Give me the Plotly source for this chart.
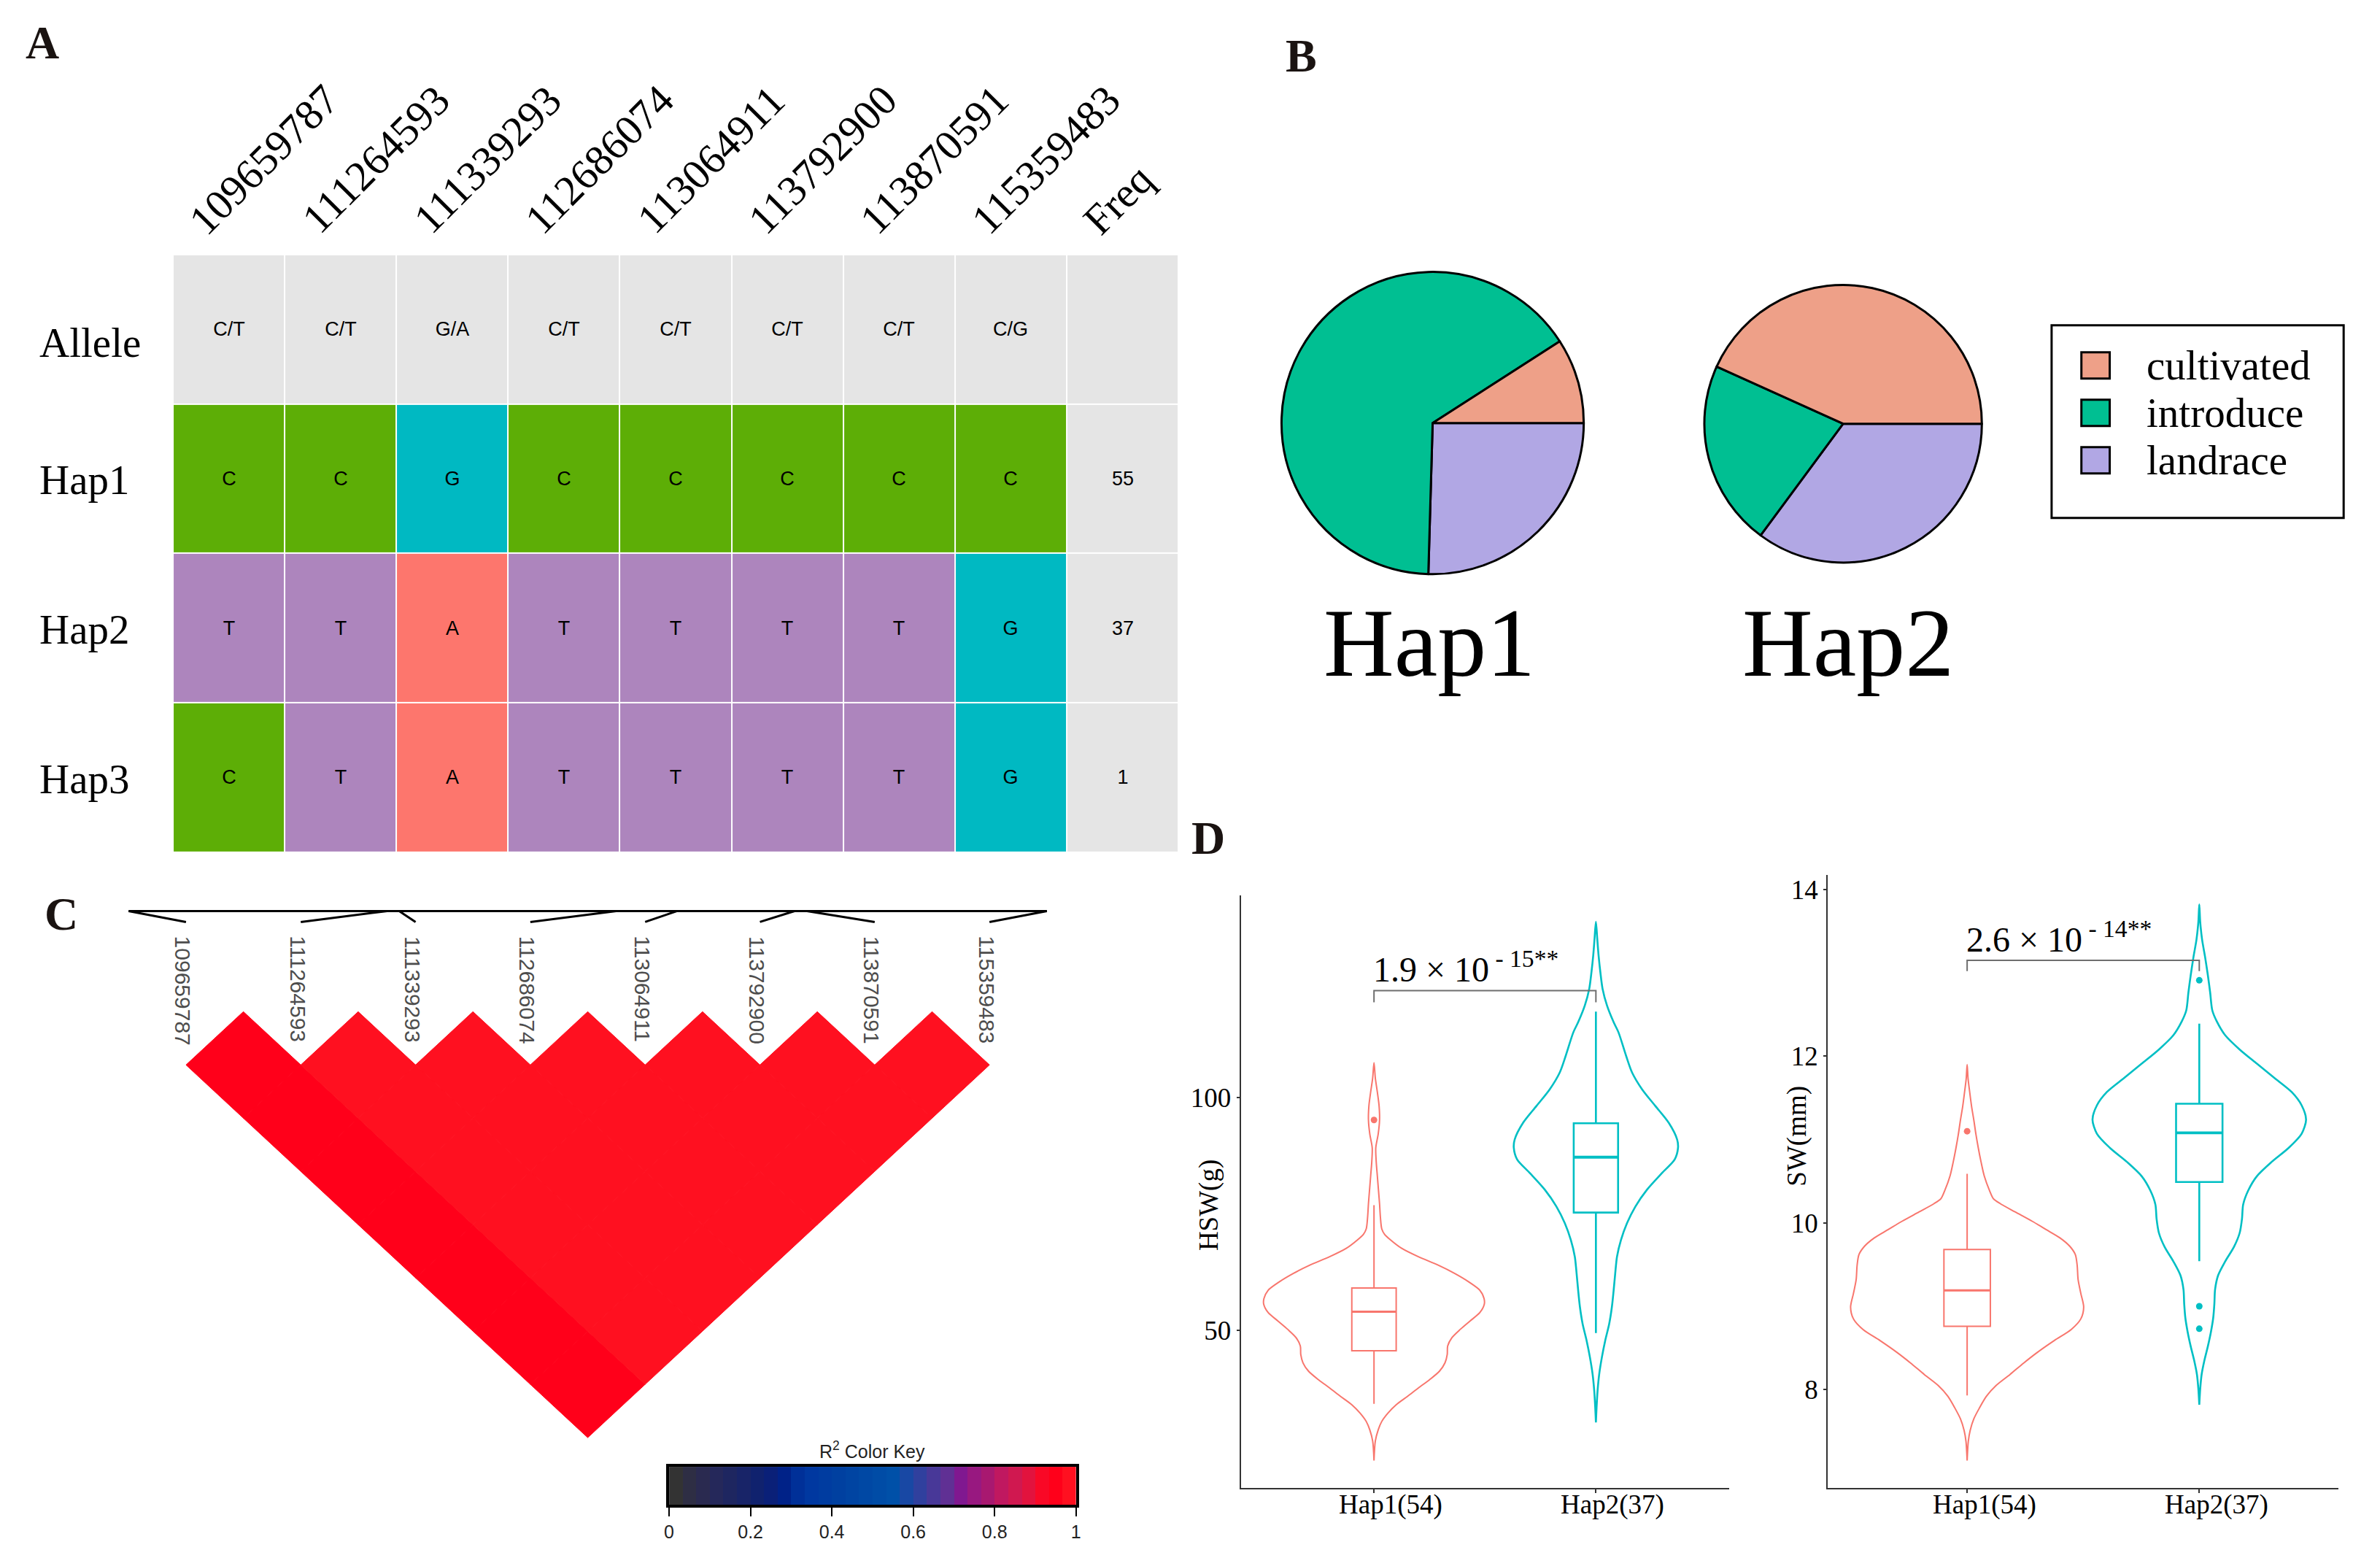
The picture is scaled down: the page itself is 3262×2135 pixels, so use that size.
import plotly.graph_objects as go

W, H = 3262, 2135
SERIF = "Liberation Serif"
SANS = "Liberation Sans"


def px(x):
    return x / W


def py(y):
    return 1 - y / H


# ---------------- data ----------------
site_ids = ["109659787", "111264593", "111339293", "112686074",
            "113064911", "113792900", "113870591", "115359483"]
site_pos = [109659787, 111264593, 111339293, 112686074,
            113064911, 113792900, 113870591, 115359483]
row_names = ["Allele", "Hap1", "Hap2", "Hap3"]
allele_row = ["C/T", "C/T", "G/A", "C/T", "C/T", "C/T", "C/T", "C/G"]
hap1_bases = ["C", "C", "G", "C", "C", "C", "C", "C"]
hap2_bases = ["T", "T", "A", "T", "T", "T", "T", "G"]
hap3_bases = ["C", "T", "A", "T", "T", "T", "T", "G"]
hap_freq = [55, 37, 1]

pie_groups = ["cultivated", "introduce", "landrace"]
pie_hap1 = [5, 36, 14]
pie_hap2 = [16, 8, 13]

# LD r^2, row i holds r^2 of site i with sites i+1..7
ld_r2 = [
    [0.95, 0.95, 0.95, 0.95, 0.95, 0.95, 0.95],
    [1, 1, 1, 1, 1, 1],
    [1, 1, 1, 1, 1],
    [1, 1, 1, 1],
    [1, 1, 1],
    [1, 1],
    [1],
]
key_ticks = [0, 0.2, 0.4, 0.6, 0.8, 1]
key_ticktext = ["0", "0.2", "0.4", "0.6", "0.8", "1"]

# violin outlines: value levels and half widths
hsw_h1_y = [107.5, 104.2, 101.2, 98.2, 95.2, 92.2, 89.2, 86.2, 83.2, 80.2, 77.2, 74.2, 71.8,
            70.6, 69.4, 67.6, 65.8, 64.0, 62.2, 60.4, 58.6, 56.8, 55.6, 53.8, 52.0, 50.2,
            48.4, 46.6, 44.8, 43.0, 41.2, 39.4, 37.6, 35.8, 34.0, 32.2, 30.4, 28.6, 26.2, 22.0]
hsw_h1_w = [0, 0.006, 0.015, 0.023, 0.025, 0.019, 0.008, 0.010, 0.015, 0.020, 0.025, 0.029, 0.035,
            0.048, 0.075, 0.125, 0.200, 0.289, 0.364, 0.427, 0.477, 0.496, 0.497, 0.477, 0.433, 0.389,
            0.351, 0.332, 0.330, 0.320, 0.295, 0.251, 0.200, 0.151, 0.100, 0.063, 0.035, 0.019, 0.006, 0]
hsw_h2_y = [137.8, 134.2, 130.6, 127.0, 123.4, 119.8, 116.2, 114.0, 109.0, 105.4, 101.8, 98.2,
            94.6, 91.0, 89.2, 86.7, 83.8, 80.2, 76.6, 73.0, 69.4, 65.8, 62.2, 58.6, 55.0, 51.4,
            47.8, 44.2, 40.6, 37.0, 33.4, 30.2]
hsw_h2_w = [0, 0.006, 0.012, 0.020, 0.030, 0.050, 0.080, 0.102, 0.136, 0.163, 0.208, 0.268,
            0.328, 0.366, 0.370, 0.355, 0.298, 0.230, 0.178, 0.140, 0.113, 0.095, 0.087, 0.080,
            0.072, 0.060, 0.042, 0.027, 0.015, 0.0075, 0.003, 0]
sw_h1_y = [11.90, 11.73, 11.57, 11.40, 11.23, 11.06, 10.90, 10.73, 10.56, 10.39, 10.29, 10.23,
           10.13, 10.02, 9.92, 9.82, 9.72, 9.62, 9.49, 9.32, 9.15, 8.99, 8.85, 8.72, 8.59, 8.45,
           8.32, 8.18, 8.05, 7.92, 7.78, 7.65, 7.51, 7.38, 7.15]
sw_h1_w = [0, 0.004, 0.011, 0.019, 0.029, 0.038, 0.048, 0.060, 0.074, 0.096, 0.113, 0.143,
           0.208, 0.280, 0.340, 0.400, 0.442, 0.466, 0.474, 0.478, 0.490, 0.502, 0.490, 0.448,
           0.376, 0.304, 0.244, 0.184, 0.125, 0.083, 0.053, 0.029, 0.013, 0.005, 0]
sw_h2_y = [13.82, 13.61, 13.40, 13.19, 12.97, 12.76, 12.55, 12.42, 12.25, 12.08, 11.91, 11.74,
           11.57, 11.41, 11.24, 11.07, 10.90, 10.73, 10.56, 10.39, 10.22, 10.05, 9.88, 9.71,
           9.54, 9.37, 9.20, 9.03, 8.86, 8.69, 8.52, 8.35, 8.18, 8.01, 7.82]
sw_h2_w = [0, 0.004, 0.012, 0.025, 0.037, 0.047, 0.056, 0.075, 0.112, 0.174, 0.248, 0.323,
           0.398, 0.441, 0.460, 0.441, 0.385, 0.311, 0.248, 0.211, 0.189, 0.184, 0.174, 0.149,
           0.112, 0.081, 0.068, 0.065, 0.060, 0.050, 0.037, 0.022, 0.010, 0.004, 0]

# box statistics: q1, median, q3, lower whisker, upper whisker
hsw_box = {"Hap1": [45.6, 54.0, 59.1, 34.2, 76.9], "Hap2": [75.3, 87.2, 94.5, 49.4, 118.5]}
hsw_out = {"Hap1": [95.2], "Hap2": []}
sw_box = {"Hap1": [8.76, 9.19, 9.68, 7.93, 10.59], "Hap2": [10.49, 11.08, 11.43, 9.54, 12.39]}
sw_out = {"Hap1": [11.10], "Hap2": [12.91, 9.00, 8.73]}
hap_x_labels = ["Hap1(54)", "Hap2(37)"]
hsw_p = ("1.9", "15")
sw_p = ("2.6", "14")
hsw_bracket = [120.5, 123.0]
sw_bracket = [13.02, 13.15]
hsw_ticks = [50, 100]
sw_ticks = [8, 10, 12, 14]

# ---------------- styles ----------------
base_colors = {"gray": "#E5E5E5", "C": "#5DAE06", "G": "#00B9C2", "A": "#FD766D", "T": "#AD85BD"}
pie_colors = ["#EEA088", "#00BF92", "#B1A7E4"]
hap_colors = {"Hap1": "#F8766D", "Hap2": "#00BFC4"}
key_colors = ["#333333", "#2E2E44", "#2A2A50", "#25285A", "#1E2660", "#182468", "#10226E",
              "#0A2078", "#002288", "#003098", "#0038A0", "#003CA0", "#0040A0", "#0044A2",
              "#0048A4", "#004CA6", "#0050A8", "#1848A4", "#30409E", "#483898", "#603094",
              "#801890", "#981880", "#A81870", "#C01860", "#D01850", "#E2133E", "#F90826",
              "#FF001A", "#FF1020"]

fig = go.Figure()


def note(x, y, text, size, family=SERIF, color="black", **kw):
    args = dict(xref="paper", yref="paper", xanchor="center", yanchor="middle", showarrow=False)
    args.update(kw)
    fig.add_annotation(x=x, y=y, text=text, font=dict(size=size, family=family, color=color), **args)


# ---------------- Panel A: haplotype table ----------------
order = ["gray", "C", "G", "A", "T"]
code = {k: i for i, k in enumerate(order)}
tbl_cs = []
for i, k in enumerate(order):
    tbl_cs += [[i / 5, base_colors[k]], [(i + 1) / 5, base_colors[k]]]
z_tbl = [[code["gray"]] * 9]
txt_tbl = [allele_row + [""]]
for bases, f in zip([hap1_bases, hap2_bases, hap3_bases], hap_freq):
    z_tbl.append([code[b] for b in bases] + [code["gray"]])
    txt_tbl.append(bases + [str(f)])
fig.add_trace(go.Heatmap(
    z=z_tbl, x=list(range(9)), y=list(range(4)), text=txt_tbl, texttemplate="%{text}",
    textfont=dict(size=27, family=SANS, color="black"), colorscale=tbl_cs, zmin=-0.5, zmax=4.5,
    showscale=False, xgap=2, ygap=2, hoverinfo="skip", xaxis="x", yaxis="y"))

hdr_fs = 58
for k, lab in enumerate(site_ids + ["Freq"]):
    w = hdr_fs * (0.5 if lab.isdigit() else 0.46) * len(lab)
    note(k, py(310 - 0.354 * w), lab, hdr_fs, xref="x", xshift=-44 + 0.354 * w, textangle=-45)
for r, name in enumerate(row_names):
    note(px(45), r, name, 57, yref="y", xanchor="left", yshift=-18 if r == 0 else -2)

# ---------------- Panel B: pies ----------------
pie_dom = [
    (pie_hap1, [px(1757), px(2173)], [py(787), py(371)]),
    (pie_hap2, [px(2339), px(2721)], [py(771), py(389)]),
]
for vals, dx, dy in pie_dom:
    # drawn clockwise from 3 o'clock in reverse order == counter-clockwise in data order
    fig.add_trace(go.Pie(labels=pie_groups[::-1], values=vals[::-1], domain=dict(x=dx, y=dy),
                         sort=False, direction="clockwise", rotation=90, textinfo="none",
                         hoverinfo="skip", showlegend=False,
                         marker=dict(colors=pie_colors[::-1], line=dict(color="black", width=3))))
note(px(1960), py(880), "Hap1", 134)
note(px(2537), py(880), "Hap2", 134)
# legend box
shapes = [dict(type="rect", xref="paper", yref="paper", x0=px(2817), x1=px(3219), y0=py(709),
               y1=py(445), line=dict(color="black", width=3), fillcolor="white", layer="below")]
for i, (g, c) in enumerate(zip(pie_groups, pie_colors)):
    yc = 500 + 65 * i
    shapes.append(dict(type="rect", xref="paper", yref="paper", x0=px(2858), x1=px(2897),
                       y0=py(yc + 18), y1=py(yc - 18), line=dict(color="black", width=3),
                       fillcolor=c))
    note(px(2946), py(yc), g, 57, xanchor="left")

# ---------------- Panel C: LD heatmap ----------------
def key_color(v):
    return key_colors[min(int(v * len(key_colors)), len(key_colors) - 1)]


n = len(site_ids)
for i, row in enumerate(ld_r2):
    for jj, v in enumerate(row):
        j = i + 1 + jj
        cx = (i + j) / 2
        cy = j - i - 1
        c = key_color(v)
        fig.add_trace(go.Scatter(x=[cx, cx + 0.5, cx, cx - 0.5, cx], y=[cy - 1, cy, cy + 1, cy, cy - 1],
                                 mode="lines", fill="toself", fillcolor=c, line=dict(color=c, width=1),
                                 hoverinfo="skip", showlegend=False, xaxis="x2", yaxis="y2"))
map_y = -2.89
tick_y = -2.685
fig.add_trace(go.Scatter(x=[-0.5, n - 0.5], y=[map_y, map_y], mode="lines",
                         line=dict(color="black", width=3), hoverinfo="skip", showlegend=False,
                         xaxis="x2", yaxis="y2"))
p0, p1 = site_pos[0], site_pos[-1]
for k, p in enumerate(site_pos):
    gx = -0.5 + n * (p - p0) / (p1 - p0)
    fig.add_trace(go.Scatter(x=[gx, k], y=[map_y, tick_y], mode="lines",
                             line=dict(color="black", width=3), hoverinfo="skip", showlegend=False,
                             xaxis="x2", yaxis="y2"))
    note(k, -2.45, site_ids[k], 30, family=SANS, color="#4D4D4D", xref="x2", yref="y2", xshift=-4,
         textangle=90, yanchor="top")

# colour key
nk = len(key_colors)
key_cs = []
for i, c in enumerate(key_colors):
    key_cs += [[i / nk, c], [(i + 1) / nk, c]]
fig.add_trace(go.Heatmap(z=[list(range(nk))], x=[(i + 0.5) / nk for i in range(nk)], y=[0],
                         colorscale=key_cs, zmin=-0.5, zmax=nk - 0.5, showscale=False,
                         hoverinfo="skip", xaxis="x3", yaxis="y3"))
note(px(1194), py(1987), "R<sup>2</sup> Color Key", 25,
     family="Liberation Sans Narrow, Liberation Sans", color="#222")

# ---------------- Panel D: violins ----------------
def add_violin(ys, ws, xc, color, lw, xa, ya):
    xs = [xc + w for w in ws] + [xc - w for w in ws[::-1]]
    yy = list(ys) + list(ys[::-1])
    fig.add_trace(go.Scatter(x=xs, y=yy, mode="lines", line=dict(color=color, width=lw, shape="spline",
                                                                   smoothing=0.8),
                             hoverinfo="skip", showlegend=False, xaxis=xa, yaxis=ya))


def add_box(stats, outs, xc, color, lw, xa, ya):
    q1, med, q3, lo, hi = stats
    fig.add_trace(go.Box(x=[xc], q1=[q1], median=[med], q3=[q3], lowerfence=[lo], upperfence=[hi],
                         width=0.2, whiskerwidth=0, line=dict(color=color, width=lw),
                         fillcolor="rgba(0,0,0,0)", boxpoints=False, hoverinfo="skip",
                         showlegend=False, xaxis=xa, yaxis=ya))
    fig.add_trace(go.Scatter(x=[xc - 0.1, xc + 0.1], y=[med, med], mode="lines",
                             line=dict(color=color, width=lw * 1.5), hoverinfo="skip",
                             showlegend=False, xaxis=xa, yaxis=ya))
    if outs:
        fig.add_trace(go.Scatter(x=[xc] * len(outs), y=outs, mode="markers",
                                 marker=dict(color=color, size=9), hoverinfo="skip",
                                 showlegend=False, xaxis=xa, yaxis=ya))


lw1, lw2 = 2.0, 2.6
add_violin(hsw_h1_y, hsw_h1_w, 1, hap_colors["Hap1"], lw1, "x4", "y4")
add_violin(hsw_h2_y, hsw_h2_w, 2, hap_colors["Hap2"], lw2, "x4", "y4")
add_box(hsw_box["Hap1"], hsw_out["Hap1"], 1, hap_colors["Hap1"], lw1, "x4", "y4")
add_box(hsw_box["Hap2"], hsw_out["Hap2"], 2, hap_colors["Hap2"], lw2, "x4", "y4")
add_violin(sw_h1_y, sw_h1_w, 1, hap_colors["Hap1"], lw1, "x5", "y5")
add_violin(sw_h2_y, sw_h2_w, 2, hap_colors["Hap2"], lw2, "x5", "y5")
add_box(sw_box["Hap1"], sw_out["Hap1"], 1, hap_colors["Hap1"], lw1, "x5", "y5")
add_box(sw_box["Hap2"], sw_out["Hap2"], 2, hap_colors["Hap2"], lw2, "x5", "y5")

for (lo, hi), (mant, ex), xa, ya in [(hsw_bracket, hsw_p, "x4", "y4"), (sw_bracket, sw_p, "x5", "y5")]:
    fig.add_trace(go.Scatter(x=[1, 1, 2, 2], y=[lo, hi, hi, lo], mode="lines",
                             line=dict(color="#6E6E6E", width=2), hoverinfo="skip",
                             showlegend=False, xaxis=xa, yaxis=ya))
    note(0.99, hi, f"{mant} × 10<sup> - {ex}**</sup>", 48, xref=xa, yref=ya, xanchor="left",
         yanchor="bottom")
    for i, lab in enumerate(hap_x_labels):
        note(i + 1.075, py(2062), lab, 37, xref=xa)

note(px(1657), py(1651), "HSW(g)", 37, textangle=-90)
note(px(2467), py(1556), "SW(mm)", 37, textangle=-90)

# panel letters
for lab, x, y in [("A", 51, 58), ("B", 1784, 76), ("C", 77, 1252), ("D", 1656, 1148)]:
    note(px(x), py(y), f"<b>{lab}</b>", 64, color="#1A1311")

# ---------------- layout ----------------
hidden = dict(visible=False, showgrid=False, zeroline=False)
axis_d = dict(showgrid=False, zeroline=False, showline=True, linecolor="#333333", linewidth=2,
              ticks="outside", tickcolor="#333333", tickwidth=2,
              tickfont=dict(size=37, family=SERIF, color="black"))
fig.update_layout(
    width=W, height=H, margin=dict(l=0, r=0, t=0, b=0), paper_bgcolor="white", plot_bgcolor="white",
    font=dict(family=SERIF, color="black"), showlegend=False, shapes=shapes,
    xaxis=dict(domain=[px(231), px(1615)], range=[-0.5, 8.5], anchor="y", **hidden),
    yaxis=dict(domain=[py(1167), py(348)], range=[3.5, -0.5], anchor="x", **hidden),
    xaxis2=dict(domain=[0, px(1650)], range=[-249 / 158, (1650 - 249) / 158], anchor="y2", **hidden),
    yaxis2=dict(domain=[0, py(1180)], range=[(2135 - 1459) / 73, (1180 - 1459) / 73], anchor="x2",
                **hidden),
    xaxis3=dict(domain=[px(914), px(1474)], range=[0, 1], anchor="y3", showgrid=False, zeroline=False,
                showline=True, mirror=True, linecolor="black", linewidth=4, ticks="outside",
                ticklen=12, tickwidth=2, tickcolor="black", tickvals=key_ticks,
                ticktext=key_ticktext,
                tickfont=dict(size=25, family="Liberation Sans Narrow, Liberation Sans", color="#222")),
    yaxis3=dict(domain=[py(2062), py(2010)], range=[-0.5, 0.5], anchor="x3", showgrid=False,
                zeroline=False, showline=True, mirror=True, linecolor="black", linewidth=4,
                showticklabels=False, ticks=""),
    xaxis4=dict(domain=[px(1701), px(2373)], range=[0.4, 2.6], anchor="y4", tickvals=[1, 2],
                ticklen=5, showticklabels=False, **axis_d),
    yaxis4=dict(domain=[py(2039), py(1227)], range=[16.1, 143.4], anchor="x4", tickvals=hsw_ticks,
                ticklen=4, **axis_d),
    xaxis5=dict(domain=[px(2509), px(3212)], range=[0.4, 2.6], anchor="y5", tickvals=[1, 2],
                ticklen=5, showticklabels=False, **axis_d),
    yaxis5=dict(domain=[py(2039), py(1199)], range=[6.82, 14.17], anchor="x5", tickvals=sw_ticks,
                ticklen=4, **axis_d),
)

fig.write_html("out.html", config={"displayModeBar": False},
               post_script="document.body.style.margin='0px';")
